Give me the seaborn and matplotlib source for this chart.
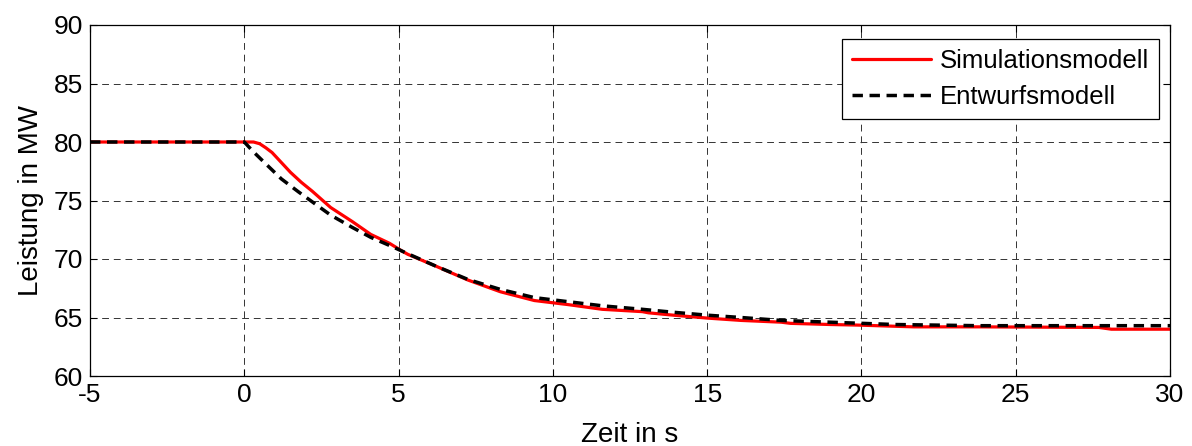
import matplotlib
matplotlib.use("Agg")
import matplotlib.pyplot as plt
import seaborn as sns

# Simulationsmodell (red)
t_sim = [-5, 0, 0.3, 0.5, 0.7, 0.9, 1.2, 1.5, 1.85, 2.2, 2.5, 2.8, 3.15, 3.5, 4.1,
         4.7, 5.1, 5.3, 6.2, 7.25, 8.3, 9.4, 10.5, 11.6, 12.9, 13.1, 13.9, 15.0,
         16.1, 17.4, 17.7, 19.0, 19.9, 21.7, 23.8, 27.7, 28.1, 30]
p_sim = [80, 80, 80, 79.85, 79.5, 79.1, 78.25, 77.4, 76.55, 75.8, 75.1, 74.4,
         73.8, 73.2, 72.1, 71.35, 70.7, 70.4, 69.4, 68.2, 67.2, 66.45, 66.1, 65.7,
         65.5, 65.4, 65.2, 64.95, 64.75, 64.6, 64.5, 64.4, 64.35, 64.2, 64.2,
         64.15, 64.0, 64.0]

# Entwurfsmodell (black dashed)
t_ent = [-5, 0, 0.3, 0.67, 1.2, 1.75, 2.3, 2.8, 3.5, 4.1, 4.8, 5.3, 6.2, 7.25,
         8.3, 9.4, 10.5, 11.6, 12.9, 13.9, 15.0, 16.1, 17.4, 19.5, 21.1, 23.8, 30]
p_ent = [80, 80, 79.15, 78.2, 76.85, 75.75, 74.7, 73.75, 72.7, 71.85, 71.05, 70.45,
         69.4, 68.25, 67.4, 66.7, 66.35, 66.0, 65.7, 65.45, 65.2, 65.0, 64.75,
         64.55, 64.4, 64.3, 64.3]

labels = ["Simulationsmodell", "Entwurfsmodell"]
xticks = [-5, 0, 5, 10, 15, 20, 25, 30]
yticks = [60, 65, 70, 75, 80, 85, 90]

sns.set_style("ticks")
plt.rcParams["font.family"] = ["Liberation Sans", "DejaVu Sans"]
plt.rcParams["axes.unicode_minus"] = False
plt.rcParams["text.color"] = "black"
plt.rcParams["axes.labelcolor"] = "black"
plt.rcParams["xtick.color"] = "black"
plt.rcParams["ytick.color"] = "black"

fig = plt.figure(figsize=(11.92, 4.46), dpi=100)
ax = fig.add_axes([90 / 1192, 1 - 376 / 446, (1170 - 90) / 1192, (376 - 25) / 446])

sns.lineplot(x=t_sim, y=p_sim, ax=ax, color="#ff0000", linewidth=2.3,
             estimator=None, sort=False, label=labels[0])
sns.lineplot(x=t_ent, y=p_ent, ax=ax, color="black", linewidth=2.5,
             estimator=None, sort=False, label=labels[1])
ax.lines[1].set_linestyle((0, (3.0, 1.9)))

ax.set_xlim(-5, 30)
ax.set_ylim(60, 90)
ax.set_xticks(xticks)
ax.set_yticks(yticks)
ax.tick_params(direction="in", top=True, right=True, labelsize=19, length=5,
               width=0.8, pad=5, colors="black")
ax.grid(True, color="#333333", linewidth=0.7, linestyle=(0, (7, 5)))
for s in ax.spines.values():
    s.set_color("black")
    s.set_linewidth(0.9)

ax.set_xlabel("Zeit in s", fontsize=20, labelpad=11, color="black")
ax.set_ylabel("Leistung in MW", fontsize=20, labelpad=7, color="black")

leg = ax.legend(loc="upper right", fontsize=18.5, frameon=True, fancybox=False,
                framealpha=1, edgecolor="black", handlelength=3.1,
                borderpad=0.38, labelspacing=0.49, handletextpad=0.33,
                borderaxespad=0, bbox_to_anchor=(0.9898, 0.960))
leg.get_frame().set_linewidth(0.9)
for txt in leg.get_texts():
    txt.set_color("black")
leg.get_lines()[1].set_linestyle((0, (3.0, 1.9)))

fig.savefig("out.png", dpi=100)
